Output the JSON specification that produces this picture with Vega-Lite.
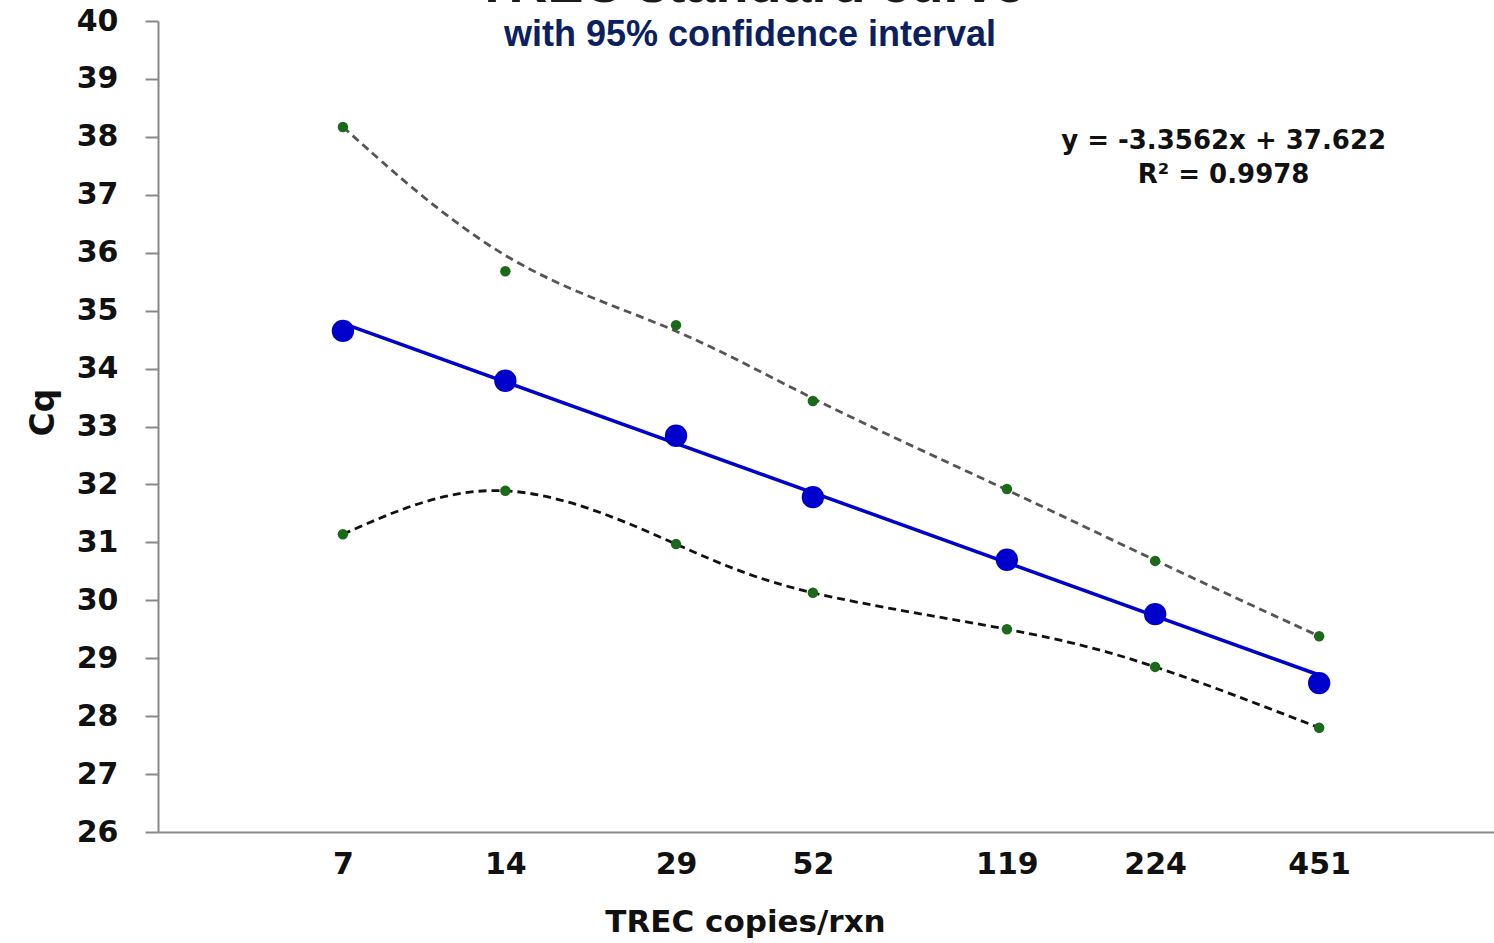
{
  "$schema": "https://vega.github.io/schema/vega-lite/v6.json",
  "width": 1336,
  "height": 811,
  "autosize": "none",
  "padding": {"left": 158, "top": 21, "right": 0, "bottom": 111},
  "background": "white",
  "title": {
    "text": "TREC standard curve",
    "subtitle": "with 95% confidence interval",
    "anchor": "middle",
    "frame": "group",
    "dx": -76,
    "offset": -47,
    "font": "Liberation Sans",
    "fontSize": 54,
    "fontWeight": "bold",
    "color": "#1a1a1a",
    "subtitleFont": "Liberation Sans",
    "subtitleFontSize": 36,
    "subtitleFontWeight": "bold",
    "subtitleColor": "#0b2060",
    "subtitlePadding": 5
  },
  "datasets": {
    "pts": [
      {"copies": 7, "cq": 34.65, "series": "mean"},
      {"copies": 14, "cq": 33.79, "series": "mean"},
      {"copies": 29, "cq": 32.84, "series": "mean"},
      {"copies": 52, "cq": 31.78, "series": "mean"},
      {"copies": 119, "cq": 30.7, "series": "mean"},
      {"copies": 224, "cq": 29.76, "series": "mean"},
      {"copies": 451, "cq": 28.57, "series": "mean"},
      {"copies": 7, "cq": 38.17, "series": "upper"},
      {"copies": 14, "cq": 35.68, "series": "upper"},
      {"copies": 29, "cq": 34.75, "series": "upper"},
      {"copies": 52, "cq": 33.44, "series": "upper"},
      {"copies": 119, "cq": 31.92, "series": "upper"},
      {"copies": 224, "cq": 30.68, "series": "upper"},
      {"copies": 451, "cq": 29.38, "series": "upper"},
      {"copies": 7, "cq": 31.14, "series": "lower"},
      {"copies": 14, "cq": 31.89, "series": "lower"},
      {"copies": 29, "cq": 30.97, "series": "lower"},
      {"copies": 52, "cq": 30.13, "series": "lower"},
      {"copies": 119, "cq": 29.5, "series": "lower"},
      {"copies": 224, "cq": 28.85, "series": "lower"},
      {"copies": 451, "cq": 27.8, "series": "lower"}
    ],
    "trend": [
      {"copies": 7, "cq": 34.78},
      {"copies": 451, "cq": 28.71}
    ],
    "eq": [
      {"copies": 300, "cq": 37.93, "label": "y = -3.3562x + 37.622"},
      {"copies": 300, "cq": 37.34, "label": "R² = 0.9978"}
    ]
  },
  "encoding": {
    "x": {
      "field": "copies",
      "type": "quantitative",
      "scale": {"type": "log", "domain": [3.18, 951], "nice": false},
      "axis": {
        "values": [7, 14, 29, 52, 119, 224, 451],
        "title": "TREC copies/rxn",
        "grid": false,
        "ticks": false,
        "domainColor": "#888888",
        "domainWidth": 2,
        "labelFont": "DejaVu Sans",
        "labelFontSize": 30,
        "labelFontWeight": "bold",
        "labelColor": "#111111",
        "labelPadding": 17,
        "titleFont": "DejaVu Sans",
        "titleFontSize": 31,
        "titleFontWeight": "bold",
        "titleColor": "#111111",
        "titlePadding": 28,
        "titleX": 587
      }
    },
    "y": {
      "field": "cq",
      "type": "quantitative",
      "scale": {"domain": [26, 40], "nice": false, "zero": false},
      "axis": {
        "values": [26, 27, 28, 29, 30, 31, 32, 33, 34, 35, 36, 37, 38, 39, 40],
        "title": "Cq",
        "grid": false,
        "tickSize": 13,
        "tickColor": "#888888",
        "tickWidth": 2,
        "domainColor": "#888888",
        "domainWidth": 2,
        "labelFont": "DejaVu Sans",
        "labelFontSize": 30,
        "labelFontWeight": "bold",
        "labelColor": "#111111",
        "labelPadding": 27,
        "titleFont": "DejaVu Sans",
        "titleFontSize": 33,
        "titleFontWeight": "bold",
        "titleColor": "#111111",
        "titlePadding": 16,
        "titleY": 391
      }
    }
  },
  "layer": [
    {
      "data": {"name": "pts"},
      "transform": [{"filter": "datum.series === 'upper'"}],
      "mark": {"type": "line", "interpolate": "basis", "stroke": "#555555", "strokeWidth": 2.8, "strokeDash": [8, 5]}
    },
    {
      "data": {"name": "pts"},
      "transform": [{"filter": "datum.series === 'lower'"}],
      "mark": {"type": "line", "interpolate": "natural", "stroke": "#111111", "strokeWidth": 2.8, "strokeDash": [8, 5]}
    },
    {
      "data": {"name": "trend"},
      "mark": {"type": "line", "stroke": "#0000CC", "strokeWidth": 3.5}
    },
    {
      "data": {"name": "pts"},
      "transform": [{"filter": "datum.series !== 'mean'"}],
      "mark": {"type": "circle", "size": 110, "fill": "#1a6a1a", "opacity": 1}
    },
    {
      "data": {"name": "pts"},
      "transform": [{"filter": "datum.series === 'mean'"}],
      "mark": {"type": "circle", "size": 500, "fill": "#0000CC", "opacity": 1}
    },
    {
      "data": {"name": "eq"},
      "mark": {"type": "text", "font": "DejaVu Sans", "fontSize": 26, "fontWeight": "bold", "color": "#111111", "align": "center", "baseline": "middle"},
      "encoding": {"text": {"field": "label"}}
    }
  ],
  "config": {"view": {"stroke": null}}
}
